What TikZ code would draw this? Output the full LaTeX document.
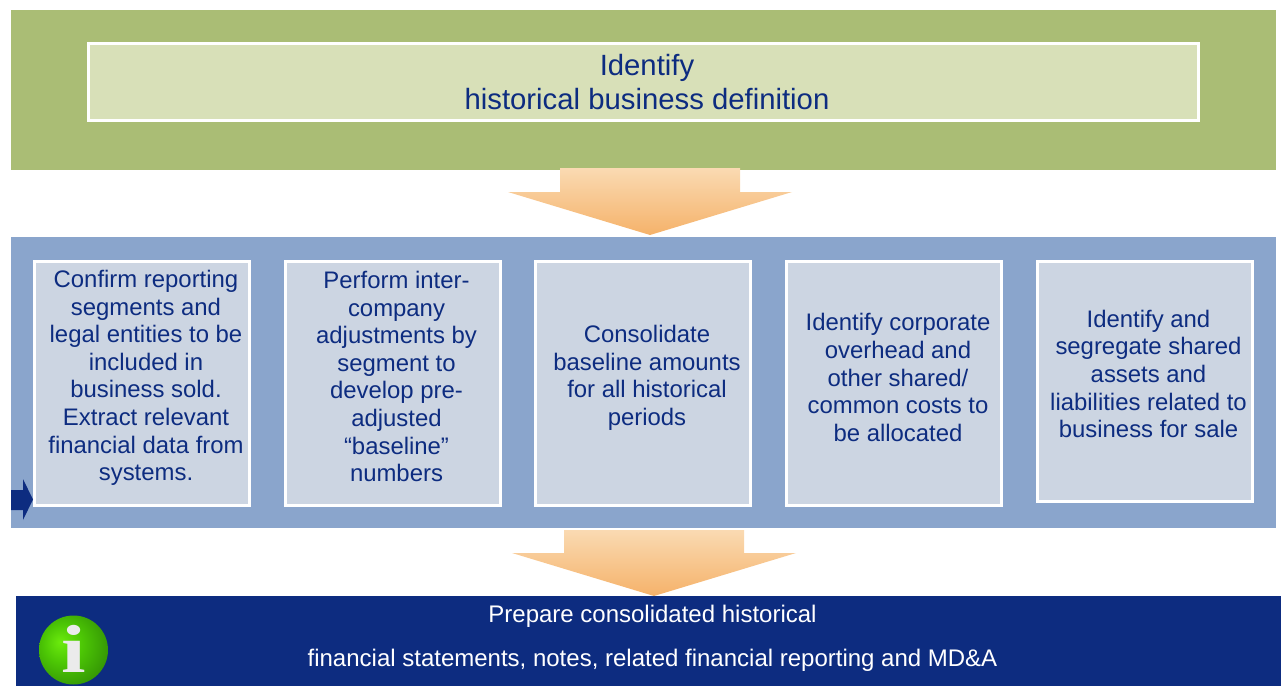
\documentclass[tikz,border=0pt]{standalone}
\usepackage{fontspec}
\setmainfont{Liberation Sans}
\newfontfamily\iconfont{Liberation Serif}
\definecolor{bandgreen}{HTML}{AABD75}
\definecolor{boxgreen}{HTML}{D8E0B8}
\definecolor{bandblue}{HTML}{8AA5CC}
\definecolor{boxblue}{HTML}{CCD5E2}
\definecolor{navy}{HTML}{0D2C80}
\definecolor{arrowtop}{HTML}{FADAB2}
\definecolor{arrowbottom}{HTML}{F5B26A}
\pgfdeclareradialshading{infoball}{\pgfpoint{-10bp}{6bp}}{
  rgb(0bp)=(0.42,0.92,0.05);
  rgb(14bp)=(0.30,0.78,0.02);
  rgb(32bp)=(0.20,0.58,0.02);
  rgb(40bp)=(0.30,0.68,0.02);
  rgb(46bp)=(0.60,0.85,0.15);
  rgb(60bp)=(0.70,0.88,0.30)}
\tikzset{
  band/.style={inner sep=0pt,outer sep=0pt,anchor=north west},
  stepbox/.style={draw=white,line width=3pt,fill=boxblue,minimum width=215pt,
    inner sep=0pt,outer sep=0pt,anchor=north west},
  steptext/.style={text=navy,align=center,inner sep=0pt,font=\fontsize{23.9}{27.6}\selectfont},
  flowarrow/.style={top color=arrowtop,bottom color=arrowbottom,draw=none}
}
\begin{document}
\begin{tikzpicture}[x=1pt,y=-1pt]
        \useasboundingbox (0,0) rectangle (1282,686);

        \node[band,fill=bandgreen,minimum width=1265pt,minimum height=160pt](Top band) at (11,10) {};
        \node[draw=white,line width=3pt,fill=boxgreen,minimum width=1110pt,minimum height=77pt,inner sep=0pt](Identify box) at (643.5,82) {};
        \node[text=navy,align=center,inner sep=0pt,font=\fontsize{29.3}{34}\selectfont](Identify) at (647,82) {Identify\\historical business definition};

        \node[band,fill=bandblue,minimum width=1265pt,minimum height=291pt](Middle band) at (11,237) {};
        \node[stepbox,minimum height=244pt](Confirm box) at (34.5,261.5) {};
        \node[stepbox,minimum height=244pt](Perform box) at (285,261.5) {};
        \node[stepbox,minimum height=244pt](Consolidate box) at (535.5,261.5) {};
        \node[stepbox,minimum height=244pt](Corporate box) at (786.5,261.5) {};
        \node[stepbox,minimum height=240pt](Segregate box) at (1037,261.5) {};

        \node[steptext](Confirm) at (146,378) {Confirm reporting\\segments and\\legal entities to be\\included in\\business sold.\\Extract relevant\\financial data from\\systems.};
        \node[steptext](Perform) at (396.5,376.5) {Perform inter-\\company\\adjustments by\\segment to\\develop pre-\\adjusted\\“baseline”\\numbers};
        \node[steptext](Consolidate) at (647,378) {Consolidate\\baseline amounts\\for all historical\\periods};
        \node[steptext](Corporate) at (898,377.5) {Identify corporate\\overhead and\\other shared/\\common costs to\\be allocated};
        \node[steptext](Segregate) at (1148.5,374) {Identify and\\segregate shared\\assets and\\liabilities related to\\business for sale};

        \node[band,fill=navy,minimum width=1265pt,minimum height=90pt](Bottom band) at (16,596) {};
        \node[text=white,font=\fontsize{24}{28}\selectfont,inner sep=0pt](Prepare) at (652.5,616) {Prepare consolidated historical};
        \node[text=white,font=\fontsize{24}{28}\selectfont,inner sep=0pt](Statements) at (652.5,660) {financial statements, notes, related financial reporting and MD\&A};

        % block arrows between the bands
        \path[flowarrow] (560,168) -- (740,168) -- (740,192) -- (792,192) -- (650,235) -- (508,192) -- (560,192) -- cycle;
        \path[flowarrow] (564,530) -- (744,530) -- (744,553) -- (796,553) -- (654,596) -- (512,553) -- (564,553) -- cycle;

        % small marker on the left edge
        \fill[navy] (11,490) -- (23,490) -- (23,479) -- (33,499.5) -- (23,520) -- (23,510) -- (11,510) -- cycle;

        % info icon
        \node[circle,minimum size=69pt,inner sep=0pt,shading=infoball](Info) at (73.5,650) {};
        \node[text=white!92!black,inner sep=0pt,xscale=1.3,font=\fontsize{68}{68}\iconfont\bfseries](Info letter) at (73.5,648.5) {i};
\end{tikzpicture}
\end{document}
